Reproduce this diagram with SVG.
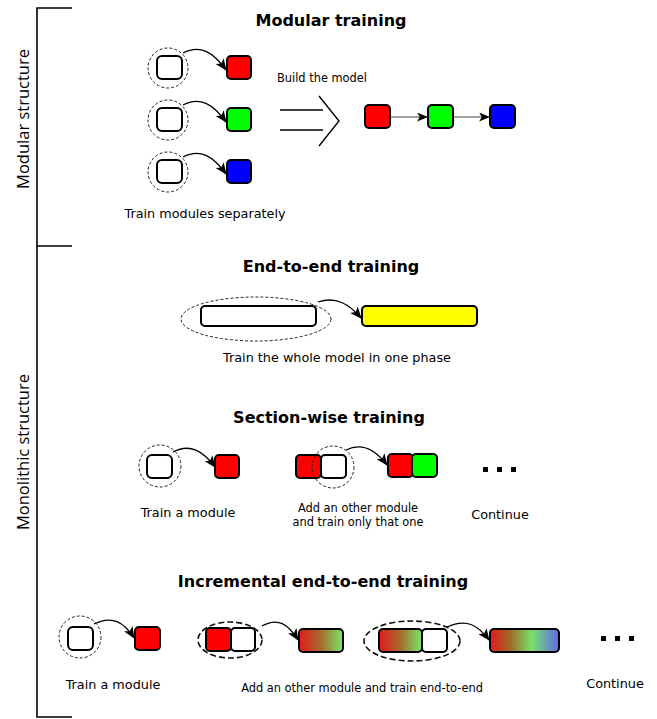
<svg xmlns="http://www.w3.org/2000/svg" width="657" height="719" viewBox="0 0 657 719">
<style>
.t{font-family:"DejaVu Sans",Verdana,sans-serif;font-size:12.8px;fill:#000;text-anchor:middle}
.ts{font-family:"DejaVu Sans",Verdana,sans-serif;font-size:11.4px;fill:#000;text-anchor:middle}
.h{font-family:"DejaVu Sans",Verdana,sans-serif;font-size:16px;font-weight:bold;fill:#000;text-anchor:middle}
.s{font-family:"Open Sans","Noto Sans",sans-serif;font-size:16.5px;fill:#000;text-anchor:middle}
.box{stroke:#000;stroke-width:2}
.dc{fill:none;stroke:#222;stroke-width:1;stroke-dasharray:3,2}
.de{fill:none;stroke:#111;stroke-width:1.6;stroke-dasharray:6,3}
.ar{fill:none;stroke:#000;stroke-width:1.3;marker-end:url(#ah)}
.ln{fill:none;stroke:#000;stroke-width:1.4}
</style>
<defs>
<marker id="ah" viewBox="0 0 12 10" refX="11" refY="5" markerWidth="12" markerHeight="10" markerUnits="userSpaceOnUse" orient="auto">
<path d="M0,0 L12,5 L0,10 L3,5 z" fill="#000"/>
</marker>
<marker id="ah2" viewBox="0 0 12 10" refX="11" refY="5" markerWidth="11" markerHeight="9" markerUnits="userSpaceOnUse" orient="auto">
<path d="M0,0 L12,5 L0,10 L3,5 z" fill="#000"/>
</marker>
<linearGradient id="g1" x1="0" x2="1" y1="0" y2="0">
<stop offset="0" stop-color="#e41a1a"/>
<stop offset="0.5" stop-color="#a86a2e"/>
<stop offset="1" stop-color="#78e86a"/>
</linearGradient>
<linearGradient id="g2" x1="0" x2="1" y1="0" y2="0">
<stop offset="0" stop-color="#e41a1a"/>
<stop offset="0.3" stop-color="#a06a2a"/>
<stop offset="0.6" stop-color="#7ae06a"/>
<stop offset="1" stop-color="#5a6ae8"/>
</linearGradient>
</defs>

<g id="bracket" class="ln">
<path d="M72,8 H37 V717 H72" stroke-width="1.6"/>
<path d="M37,246 H72" stroke-width="1.6"/>
</g>
<g id="side-labels">
<text class="s" transform="translate(29,119) rotate(-90)">Modular structure</text>
<text class="s" transform="translate(29,452) rotate(-90)">Monolithic structure</text>
</g>

<g id="modular">
<text class="h" x="331" y="26">Modular training</text>
<g id="m-row1">
<circle class="dc" cx="168" cy="68" r="20"/>
<rect class="box" x="157" y="56" width="25" height="23" rx="5" fill="#fff"/>
<rect class="box" x="227" y="56" width="24" height="23" rx="4" fill="#f00"/>
</g>
<g id="m-row2">
<circle class="dc" cx="168" cy="120" r="20"/>
<rect class="box" x="157" y="108" width="25" height="23" rx="5" fill="#fff"/>
<rect class="box" x="227" y="108" width="24" height="23" rx="4" fill="#0f0"/>
</g>
<g id="m-row3">
<circle class="dc" cx="168" cy="172" r="20"/>
<rect class="box" x="157" y="160" width="25" height="23" rx="5" fill="#fff"/>
<rect class="box" x="227" y="160" width="24" height="23" rx="4" fill="#00f"/>
</g>
<text class="t" x="205" y="218">Train modules separately</text>
<text class="ts" x="322" y="82">Build the model</text>
<g id="implies" class="ln">
<path d="M280,110 H323 M280,130 H323"/>
<path d="M319,96 L339,121 L319,146"/>
</g>
<g id="chain-red"><rect class="box" x="365" y="105" width="25" height="23" rx="4" fill="#f00"/></g>
<g id="chain-green"><rect class="box" x="428" y="105" width="25" height="23" rx="4" fill="#0f0"/></g>
<g id="chain-blue"><rect class="box" x="490" y="105" width="25" height="23" rx="4" fill="#00f"/></g>
</g>

<g id="e2e">
<text class="h" x="331" y="272">End-to-end training</text>
<ellipse class="dc" cx="256" cy="319" rx="75" ry="22"/>
<g id="e2e-white"><rect class="box" x="201" y="306" width="115" height="20" rx="4" fill="#fff"/></g>
<g id="e2e-yellow"><rect class="box" x="362" y="306" width="115" height="20" rx="4" fill="#ff0"/></g>
<text class="t" x="337" y="362">Train the whole model in one phase</text>
</g>

<g id="section">
<text class="h" x="329" y="423">Section-wise training</text>
<g id="s1">
<circle class="dc" cx="160" cy="466" r="21"/>
<rect class="box" x="147" y="455" width="25" height="23" rx="5" fill="#fff"/>
</g>
<g id="s1-red"><rect class="box" x="215" y="455" width="24" height="23" rx="4" fill="#f00"/></g>
<g id="s2">
<rect class="box" x="296" y="455" width="25" height="23" rx="4" fill="#f00"/>
<rect class="box" x="321" y="455" width="25" height="23" rx="4" fill="#fff"/>
<circle class="dc" cx="333" cy="467" r="21"/>
</g>
<g id="s2-out">
<rect class="box" x="388" y="454" width="25" height="23" rx="4" fill="#f00"/>
<rect class="box" x="412" y="454" width="25" height="23" rx="4" fill="#0f0"/>
</g>
<g id="s-dots" fill="#000">
<rect x="483" y="467" width="5" height="5"/><rect x="497" y="467" width="5" height="5"/><rect x="511" y="467" width="5" height="5"/>
</g>
<text class="t" x="188" y="517">Train a module</text>
<text class="ts" x="358" y="512">Add an other module</text>
<text class="ts" x="358" y="526">and train only that one</text>
<text class="t" x="500" y="519">Continue</text>
</g>

<g id="incremental">
<text class="h" x="323" y="587">Incremental end-to-end training</text>
<g id="i1">
<circle class="dc" cx="80" cy="637" r="21"/>
<rect class="box" x="68" y="627" width="25" height="23" rx="5" fill="#fff"/>
</g>
<g id="i1-red"><rect class="box" x="135" y="627" width="25" height="23" rx="4" fill="#f00"/></g>
<g id="i2">
<ellipse class="de" cx="230" cy="640" rx="32" ry="18"/>
<rect class="box" x="206" y="628" width="25" height="23" rx="4" fill="#f00"/>
<rect class="box" x="231" y="628" width="24" height="23" rx="4" fill="#fff"/>
</g>
<g id="i2-out"><rect class="box" x="299" y="629" width="44" height="23" rx="4" fill="url(#g1)"/></g>
<g id="i3">
<ellipse class="de" cx="412" cy="641" rx="48" ry="20"/>
<rect class="box" x="379" y="629" width="43" height="23" rx="4" fill="url(#g1)"/>
<rect class="box" x="422" y="629" width="25" height="23" rx="4" fill="#fff"/>
</g>
<g id="i3-out"><rect class="box" x="490" y="629" width="69" height="23" rx="4" fill="url(#g2)"/></g>
<g id="i-dots" fill="#000">
<rect x="601" y="636" width="5" height="5"/><rect x="615" y="636" width="5" height="5"/><rect x="629" y="636" width="5" height="5"/>
</g>
<text class="t" x="113" y="689">Train a module</text>
<text class="ts" x="362" y="692">Add an other module and train end-to-end</text>
<text class="t" x="615" y="688">Continue</text>
</g>

<g id="connectors">
<path class="ar" d="M183,53 C200,44 213,52 226,70"/>
<path class="ar" d="M183,105 C200,96 213,104 226,122"/>
<path class="ar" d="M183,157 C200,148 213,156 226,174"/>
<path d="M390,117 H427" fill="none" stroke="#444" stroke-width="1.2" marker-end="url(#ah2)"/>
<path d="M453,117 H489" fill="none" stroke="#444" stroke-width="1.2" marker-end="url(#ah2)"/>
<path class="ar" d="M318,302 C336,296 349,304 361,318"/>
<path class="ar" d="M173,452 C190,443 203,451 215,467"/>
<path class="ar" d="M346,450 C362,442 375,449 387,465"/>
<path class="ar" d="M94,624 C112,615 124,622 134,638"/>
<path class="ar" d="M262,626 C278,617 288,624 298,640"/>
<path class="ar" d="M447,627 C466,618 478,625 489,640"/>
</g>
</svg>
